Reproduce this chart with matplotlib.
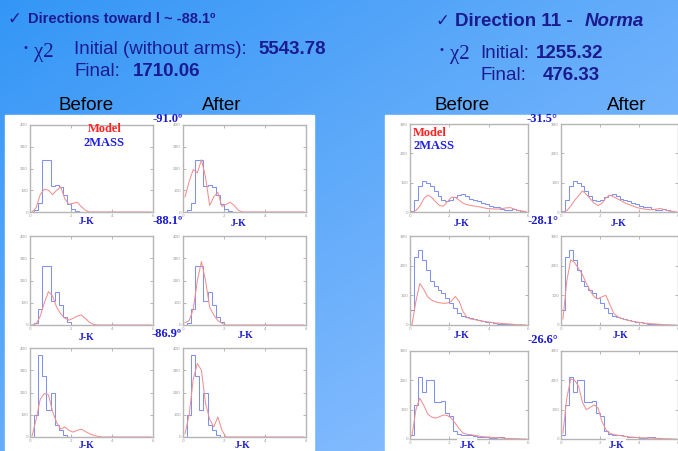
import numpy as np
import matplotlib.pyplot as plt
from matplotlib.colors import to_rgb
from matplotlib.patches import Rectangle

W, H = 678, 451

# J-K bins shared by every panel
jk_edges = np.arange(0, 6.01, 0.2)
jk_mid = (jk_edges[:-1] + jk_edges[1:]) / 2

# ---- direction l ~ -88.1 (left block, counts 0..400)
left_angles = ['-91.0º', '-88.1º', '-86.9º']
left_2mass_91 = [0, 8, 40, 238, 238, 120, 125, 115, 78, 35, 15, 5, 2, 0, 0,
                 0, 0, 0, 0, 0, 0, 0, 0, 0, 0, 0, 0, 0, 0, 0]
left_before_91 = [0, 20, 80, 105, 100, 80, 100, 115, 60, 35, 40, 45, 25, 8, 0,
                  0, 0, 0, 0, 0, 0, 0, 0, 0, 0, 0, 0, 0, 0, 0]
left_after_91 = [70, 140, 195, 180, 240, 160, 30, 70, 90, 25, 35, 45, 30, 8, 0,
                 0, 0, 0, 0, 0, 0, 0, 0, 0, 0, 0, 0, 0, 0, 0]
left_2mass_88 = [0, 8, 70, 265, 265, 110, 150, 90, 35, 15, 0, 0, 0, 0, 0,
                 0, 0, 0, 0, 0, 0, 0, 0, 0, 0, 0, 0, 0, 0, 0]
left_before_88 = [0, 5, 40, 100, 150, 130, 80, 50, 30, 22, 30, 40, 45, 30, 12,
                  3, 0, 0, 0, 0, 0, 0, 0, 0, 0, 0, 0, 0, 0, 0]
left_after_88 = [10, 20, 70, 200, 285, 200, 80, 45, 20, 8, 0, 0, 0, 0, 0,
                 0, 0, 0, 0, 0, 0, 0, 0, 0, 0, 0, 0, 0, 0, 0]
left_2mass_87 = [2, 100, 370, 275, 120, 200, 52, 30, 8, 0, 0, 0, 0, 0, 0,
                 0, 0, 0, 0, 0, 0, 0, 0, 0, 0, 0, 0, 0, 0, 0]
left_before_87 = [5, 80, 170, 195, 190, 115, 65, 35, 45, 30, 22, 30, 35, 25, 15,
                  8, 3, 0, 0, 0, 0, 0, 0, 0, 0, 0, 0, 0, 0, 0]
left_after_87 = [15, 100, 260, 330, 300, 150, 80, 45, 90, 30, 0, 0, 0, 0, 0,
                 0, 0, 0, 0, 0, 0, 0, 0, 0, 0, 0, 0, 0, 0, 0]

# ---- direction 11, Norma (right block, counts 0..300)
right_angles = ['-31.5°', '-28.1°', '-26.6°']
right_2mass_31 = [4, 40, 88, 105, 100, 88, 70, 55, 42, 36, 40, 50, 58, 60, 54,
                  45, 42, 37, 32, 27, 22, 18, 16, 11, 8, 7, 9, 7, 2, 1]
right_before_31 = [0, 5, 20, 45, 58, 50, 35, 22, 20, 35, 50, 50, 40, 30, 25,
                   22, 20, 18, 15, 12, 11, 10, 10, 12, 14, 15, 10, 5, 3, 2]
right_after_31 = [0, 5, 20, 40, 55, 72, 60, 45, 30, 22, 30, 48, 57, 52, 45,
                  38, 30, 25, 20, 15, 12, 10, 8, 8, 10, 12, 8, 4, 2, 1]
right_2mass_28 = [50, 230, 253, 220, 185, 150, 130, 118, 107, 90, 73, 56, 40, 30, 26,
                  22, 19, 16, 13, 11, 9, 6, 5, 4, 3, 2, 1, 1, 0, 0]
right_before_28 = [0, 80, 140, 120, 95, 84, 78, 75, 73, 74, 80, 96, 80, 45, 25,
                   20, 18, 15, 13, 11, 9, 7, 6, 5, 4, 3, 2, 1, 1, 0]
right_after_28 = [20, 150, 220, 210, 190, 170, 140, 115, 95, 88, 95, 100, 70, 40, 28,
                  22, 18, 15, 12, 10, 8, 6, 5, 4, 3, 2, 1, 1, 0, 0]
right_2mass_27 = [15, 116, 210, 161, 200, 200, 127, 127, 131, 88, 79, 26, 18, 15, 15,
                  12, 10, 7, 7, 6, 5, 5, 7, 8, 3, 2, 1, 0, 0, 0]
right_before_27 = [10, 100, 139, 115, 85, 75, 71, 76, 82, 80, 71, 54, 35, 20, 16,
                   15, 12, 10, 8, 7, 6, 5, 4, 3, 2, 2, 1, 1, 0, 0]
right_after_27 = [20, 140, 205, 200, 180, 125, 100, 108, 116, 105, 60, 32, 20, 15, 13,
                  11, 9, 7, 6, 5, 4, 4, 3, 3, 2, 2, 1, 1, 0, 0]

navy = '#1b1b8f'
blue_c = '#7f93ec'
red_c = '#f29090'
sans = ['Liberation Sans', 'DejaVu Sans']
serif = ['Liberation Serif', 'DejaVu Serif']

fig = plt.figure(figsize=(W / 100, H / 100), dpi=100)

# slide background: blue gradient + two white panels
bg = fig.add_axes([0, 0, 1, 1], zorder=-10)
gx, gy = np.meshgrid(np.linspace(0, 1, 300), np.linspace(0, 1, 300))
t = np.clip(0.55 * gx + 0.55 * gy, 0, 1)
c0, c1 = np.array(to_rgb('#3396f6')), np.array(to_rgb('#8fc0ff'))
bg.imshow(c0 + (c1 - c0) * t[..., None], extent=[0, W, H, 0], aspect='auto')
bg.add_patch(Rectangle((5, 115), 309, 340, color='white'))
bg.add_patch(Rectangle((385, 115), 300, 340, color='white'))
bg.set_xlim(0, W)
bg.set_ylim(H, 0)
bg.axis('off')


def hist_panel(x0, x1, y0, y1, ymax, obs, model):
    ax = fig.add_axes([x0 / W, 1 - y1 / H, (x1 - x0) / W, (y1 - y0) / H])
    ax.stairs(obs, jk_edges, color=blue_c, lw=0.75)
    ax.plot(jk_mid, model, color=red_c, lw=0.75)
    ax.set_xlim(0, 6)
    ax.set_ylim(0, ymax)
    ax.set_xticks([0, 2, 4, 6])
    ax.set_yticks(np.arange(0, ymax + 1, 100))
    ax.tick_params(direction='in', length=2, width=0.5, labelsize=3, colors='#999999',
                   pad=1.5, top=True, right=True)
    for sp in ax.spines.values():
        sp.set_color('#b5b5b5')
        sp.set_linewidth(1.0)
    return ax


left_rows = [(125, 212), (236, 325), (348, 437)]
left_data = [(left_2mass_91, left_before_91, left_after_91),
             (left_2mass_88, left_before_88, left_after_88),
             (left_2mass_87, left_before_87, left_after_87)]
for (y0, y1), (obs, mb, ma) in zip(left_rows, left_data):
    hist_panel(30, 153, y0, y1, 400, obs, mb)
    hist_panel(183, 306, y0, y1, 400, obs, ma)

right_rows = [(124, 212), (236, 325), (351, 439)]
right_data = [(right_2mass_31, right_before_31, right_after_31),
              (right_2mass_28, right_before_28, right_after_28),
              (right_2mass_27, right_before_27, right_after_27)]
for (y0, y1), (obs, mb, ma) in zip(right_rows, right_data):
    hist_panel(410, 528, y0, y1, 300, obs, mb)
    hist_panel(561, 678, y0, y1, 300, obs, ma)

# overlay for all slide text
ov = fig.add_axes([0, 0, 1, 1], zorder=10)
ov.patch.set_visible(False)
ov.set_xlim(0, W)
ov.set_ylim(H, 0)
ov.axis('off')

# left header
ov.text(7, 19, '✓', color=navy, fontsize=12, fontweight='bold', family=['DejaVu Sans'], va='center')
ov.text(28, 19, 'Directions toward l ~ -88.1º', color=navy, fontsize=10.5, fontweight='bold',
        family=sans, va='center')
ov.text(23, 48, '•', color=navy, fontsize=8, family=sans, va='center')
ov.text(34, 53, 'χ2', color=navy, fontsize=15, family=serif, va='center')
ov.text(74, 50, 'Initial (without arms):', color=navy, fontsize=13.5, family=sans, va='center')
ov.text(258, 50, '5543.78', color=navy, fontsize=13.5, fontweight='bold', family=sans, va='center')
ov.text(74, 72, 'Final:', color=navy, fontsize=13.5, family=sans, va='center')
ov.text(133, 72, '1710.06', color=navy, fontsize=13.5, fontweight='bold', family=sans, va='center')
ov.text(58, 106, 'Before', color='black', fontsize=13.5, family=sans, va='center')
ov.text(202, 106, 'After', color='black', fontsize=13.5, family=sans, va='center')

# right header
ov.text(436, 21, '✓', color=navy, fontsize=12, fontweight='bold', family=['DejaVu Sans'], va='center')
ov.text(455, 21, 'Direction 11 - ', color=navy, fontsize=13.5, fontweight='bold', family=sans, va='center')
ov.text(585, 21, 'Norma', color=navy, fontsize=13.5, fontweight='bold', style='italic',
        family=sans, va='center')
ov.text(439, 50, '•', color=navy, fontsize=8, family=sans, va='center')
ov.text(450, 54, 'χ2', color=navy, fontsize=15, family=serif, va='center')
ov.text(480, 53, 'Initial:', color=navy, fontsize=13.5, family=sans, va='center')
ov.text(536, 53, '1255.32', color=navy, fontsize=13.5, fontweight='bold', family=sans, va='center')
ov.text(480, 76, 'Final:', color=navy, fontsize=13.5, family=sans, va='center')
ov.text(543, 76, '476.33', color=navy, fontsize=13.5, fontweight='bold', family=sans, va='center')
ov.text(435, 106, 'Before', color='black', fontsize=13.5, family=sans, va='center')
ov.text(607, 106, 'After', color='black', fontsize=13.5, family=sans, va='center')

# legends
ov.text(105, 129, 'Model', color='#ff2222', fontsize=9, fontweight='bold', family=serif,
        ha='center', va='center')
ov.text(104, 143, '2MASS', color='#2020e0', fontsize=9, fontweight='bold', family=serif,
        ha='center', va='center')
ov.text(413, 133, 'Model', color='#ff2222', fontsize=9, fontweight='bold', family=serif, va='center')
ov.text(413, 146, '2MASS', color='#2020e0', fontsize=9, fontweight='bold', family=serif, va='center')

# galactic latitude labels
for (x, y), s in zip([(168, 119), (168, 221), (167, 334)], left_angles):
    ov.text(x, y, s, color='#1a1ad0', fontsize=9, fontweight='bold', family=serif,
            ha='center', va='center')
for (x, y), s in zip([(542, 119), (543, 221), (543, 340)], right_angles):
    ov.text(x, y, s, color='#1a1ad0', fontsize=9, fontweight='bold', family=serif,
            ha='center', va='center')

# axis names
jk_pos = [(86, 222), (238, 223), (86, 337), (245, 335), (86, 446), (242, 446),
          (461, 223), (618, 223), (461, 336), (620, 336), (467, 446), (616, 446)]
for x, y in jk_pos:
    ov.text(x, y, 'J-K', color='#1a1ad0', fontsize=7, fontweight='bold', family=serif,
            ha='center', va='center',
            bbox=dict(facecolor='white', edgecolor='none', pad=1.5))

fig.savefig('out.png', dpi=100)
